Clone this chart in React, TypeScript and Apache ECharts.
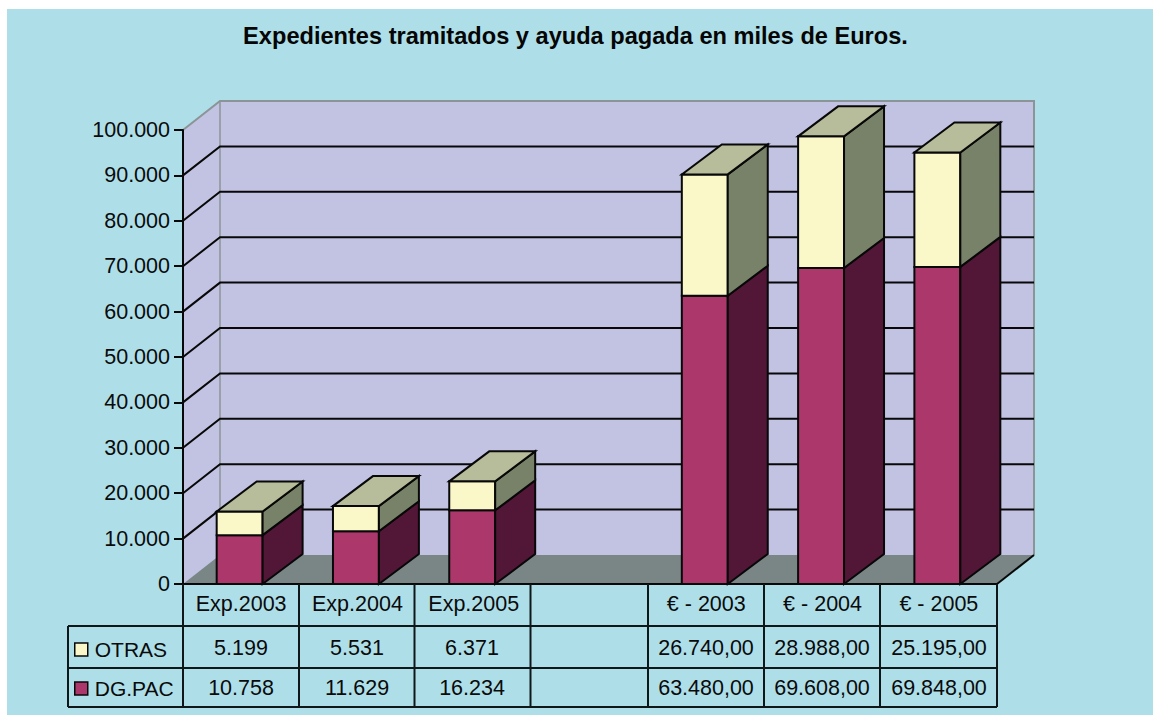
import React, { useEffect, useRef } from "react";
import * as echarts from "echarts";

const titleText = "Expedientes tramitados y ayuda pagada en miles de Euros.";
const categories = ["Exp.2003", "Exp.2004", "Exp.2005", " ", "€ - 2003", "€ - 2004", "€ - 2005"];
const dgPacValues = [10758, 11629, 16234, null, 63480, 69608, 69848];
const otrasValues = [5199, 5531, 6371, null, 26740, 28988, 25195];
const otrasLabels = ["5.199", "5.531", "6.371", "", "26.740,00", "28.988,00", "25.195,00"];
const dgPacLabels = ["10.758", "11.629", "16.234", "", "63.480,00", "69.608,00", "69.848,00"];
const yTicks = [10000, 20000, 30000, 40000, 50000, 60000, 70000, 80000, 90000];
const FONT = "'Liberation Sans', Arial, sans-serif";
const INK = "#080808";
const WALL_DX = 37;
const WALL_DY = -29;
const BAR_DX = 40;
const BAR_DY = -30;
const columnEdges = [183, 299, 414.5, 530.5, 648, 764, 880, 997];
const columnCentres = [241, 357, 472, 589, 706, 822, 939];
const rowEdges = [584, 626, 668, 707];

function bar(colors: { front: string; side: string; top?: string }) {
  return (params: any, api: any) => {
    const i = api.value(0);
    const lo = api.value(1);
    const hi = api.value(2);
    if (isNaN(lo) || isNaN(hi)) return null;
    const c0 = api.coord([i, lo]);
    const c1 = api.coord([i, hi]);
    const w = api.size([1, 0])[0] * 0.395;
    const x0 = c0[0] - w / 2 - 1.5;
    const x1 = x0 + w;
    const style = (fill: string) => ({ fill, stroke: INK, lineWidth: 2, lineJoin: "miter" });
    const kids: any[] = [
      { type: "polygon", shape: { points: [[x0, c0[1]], [x1, c0[1]], [x1, c1[1]], [x0, c1[1]]] }, style: style(colors.front) },
      { type: "polygon", shape: { points: [[x1, c0[1]], [x1 + BAR_DX, c0[1] + BAR_DY], [x1 + BAR_DX, c1[1] + BAR_DY], [x1, c1[1]]] }, style: style(colors.side) },
    ];
    if (colors.top) {
      kids.push({ type: "polygon", shape: { points: [[x0, c1[1]], [x1, c1[1]], [x1 + BAR_DX, c1[1] + BAR_DY], [x0 + BAR_DX, c1[1] + BAR_DY]] }, style: style(colors.top) });
    }
    return { type: "group", children: kids };
  };
}

function walls(params: any, api: any) {
  const g = params.coordSys;
  const L = g.x, R = g.x + g.width, T = g.y, B = g.y + g.height;
  const dx = WALL_DX, dy = WALL_DY;
  const gray = "#8b9496";
  return {
    type: "group",
    children: [
      { type: "polygon", shape: { points: [[L, B], [L + dx, B + dy], [L + dx, T + dy], [L, T]] }, style: { fill: "#c2c3e2" } },
      { type: "polygon", shape: { points: [[L + dx, B + dy], [R + dx, B + dy], [R + dx, T + dy], [L + dx, T + dy]] }, style: { fill: "#c2c3e2" } },
      { type: "polygon", shape: { points: [[L, B], [R, B], [R + dx, B + dy], [L + dx, B + dy]] }, style: { fill: "#7a8686" } },
      { type: "polyline", shape: { points: [[L, T], [L + dx, T + dy], [R + dx, T + dy], [R + dx, B + dy]] }, style: { fill: "none", stroke: gray, lineWidth: 2 } },
      { type: "line", shape: { x1: L + dx, y1: T + dy, x2: L + dx, y2: B + dy }, style: { stroke: gray, lineWidth: 1.5 } },
      { type: "line", shape: { x1: R, y1: B, x2: R + dx, y2: B + dy }, style: { stroke: INK, lineWidth: 2 } },
    ],
  };
}

function gridLine(params: any, api: any) {
  const c = api.coord([0, api.value(0)]);
  const g = params.coordSys;
  const y = c[1];
  return {
    type: "polyline",
    shape: { points: [[g.x, y], [g.x + WALL_DX, y + WALL_DY], [g.x + g.width + WALL_DX, y + WALL_DY]] },
    style: { fill: "none", stroke: INK, lineWidth: 2 },
  };
}

export default function App() {
  const ref = useRef<HTMLDivElement>(null);
  useEffect(() => {
    const chart = echarts.init(ref.current!, null, { renderer: "svg" });
    const tableLines: any[] = [];
    const line = (x1: number, y1: number, x2: number, y2: number) =>
      tableLines.push({ type: "line", z: 6, shape: { x1, y1, x2, y2 }, style: { stroke: "#101719", lineWidth: 2 } });
    columnEdges.forEach((x) => line(x, rowEdges[0], x, rowEdges[3]));
    line(68, rowEdges[1], 68, rowEdges[3]);
    line(68, rowEdges[1], 997, rowEdges[1]);
    line(68, rowEdges[2], 997, rowEdges[2]);
    line(68, rowEdges[3], 997, rowEdges[3]);
    const cell = (s: string, x: number, y: number) => ({
      type: "text",
      z: 6,
      x,
      y,
      style: { text: s, font: `21.5px ${FONT}`, fill: "#0a0a0a", align: "center", verticalAlign: "middle" },
    });
    const cells = [
      ...otrasLabels.map((s, i) => cell(s, columnCentres[i], 648)),
      ...dgPacLabels.map((s, i) => cell(s, columnCentres[i], 688)),
    ];
    const idx = categories.map((_, i) => i);
    const lowerData = idx.map((i) => [i, dgPacValues[i] === null ? NaN : 0, dgPacValues[i] === null ? NaN : dgPacValues[i]]);
    const upperData = idx.map((i) =>
      dgPacValues[i] === null
        ? [i, NaN, NaN]
        : [i, dgPacValues[i], (dgPacValues[i] as number) + (otrasValues[i] as number)]
    );
    chart.setOption({
      animation: false,
      backgroundColor: "#ffffff",
      title: {
        text: titleText,
        left: 570.5,
        top: 19,
        textAlign: "center",
        textStyle: { fontFamily: FONT, fontSize: 23.6, fontWeight: "bold", color: "#050505" },
      },
      grid: { left: 183, top: 130, width: 814, height: 454 },
      xAxis: {
        type: "category",
        data: categories,
        z: 5,
        axisTick: { show: false },
        axisLine: { lineStyle: { color: INK, width: 2 } },
        axisLabel: { interval: 0, margin: 9, fontFamily: FONT, fontSize: 21.5, color: "#0a0a0a" },
      },
      yAxis: {
        type: "value",
        min: 0,
        max: 100000,
        interval: 10000,
        z: 5,
        splitLine: { show: false },
        axisLine: { show: true, lineStyle: { color: INK, width: 2 } },
        axisTick: { show: true, length: 9, lineStyle: { color: INK, width: 2 } },
        axisLabel: {
          margin: 13,
          fontFamily: FONT,
          fontSize: 21.5,
          color: "#0a0a0a",
          formatter: (v: number) => (v === 0 ? "0" : `${v / 1000}.000`),
        },
      },
      legend: {
        left: 74,
        top: 639,
        orient: "vertical",
        selectedMode: false,
        itemWidth: 13,
        itemHeight: 13,
        itemGap: 18,
        padding: 0,
        icon: "rect",
        textStyle: { fontFamily: FONT, fontSize: 21, color: "#0a0a0a", padding: [0, 0, 0, 2] },
        data: [
          { name: "OTRAS", itemStyle: { color: "#faf8c8", borderColor: INK, borderWidth: 1.5 } },
          { name: "DG.PAC", itemStyle: { color: "#ac386b", borderColor: INK, borderWidth: 1.5 } },
        ],
      },
      series: [
        { type: "custom", name: "walls", z: 1, silent: true, data: [[0]], renderItem: walls, encode: { x: 0 } },
        { type: "custom", name: "grid", z: 1.5, silent: true, data: yTicks.map((v) => [v]), renderItem: gridLine, encode: { y: 0 } },
        {
          type: "custom",
          name: "DG.PAC",
          z: 3,
          itemStyle: { color: "#ac386b" },
          data: lowerData,
          renderItem: bar({ front: "#ac386b", side: "#521637" }),
          encode: { x: 0, y: [1, 2] },
        },
        {
          type: "custom",
          name: "OTRAS",
          z: 3,
          itemStyle: { color: "#faf8c8" },
          data: upperData,
          renderItem: bar({ front: "#faf8c8", side: "#788269", top: "#b7bd9a" }),
          encode: { x: 0, y: [1, 2] },
        },
      ],
      graphic: [
        { type: "rect", z: -10, silent: true, shape: { x: 7, y: 9, width: 1146, height: 706 }, style: { fill: "#aedfe9" } },
        ...tableLines,
        ...cells,
      ],
    });
    return () => chart.dispose();
  }, []);
  return <div ref={ref} style={{ position: "fixed", left: 0, top: 0, width: 1153, height: 715 }} />;
}
